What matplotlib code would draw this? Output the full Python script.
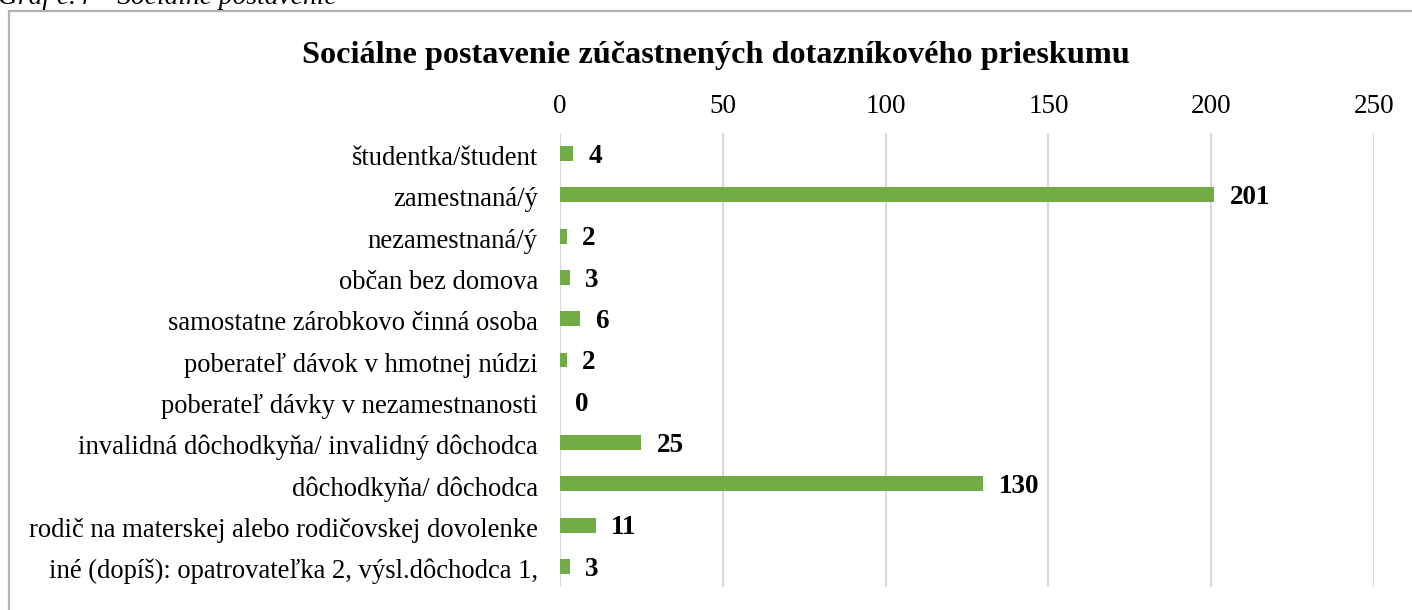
import matplotlib
matplotlib.use("Agg")
import matplotlib.pyplot as plt
import matplotlib.transforms as mtransforms
from matplotlib.patches import Rectangle

categories = [
    "študentka/študent",
    "zamestnaná/ý",
    "nezamestnaná/ý",
    "občan bez domova",
    "samostatne zárobkovo činná osoba",
    "poberateľ dávok v hmotnej núdzi",
    "poberateľ dávky v nezamestnanosti",
    "invalidná dôchodkyňa/ invalidný dôchodca",
    "dôchodkyňa/ dôchodca",
    "rodič na materskej alebo rodičovskej dovolenke",
    "iné (dopíš): opatrovateľka 2, výsl.dôchodca 1,",
]
values = [4, 201, 2, 3, 6, 2, 0, 25, 130, 11, 3]
xticks = [0, 50, 100, 150, 200, 250]
title = "Sociálne postavenie zúčastnených dotazníkového prieskumu"
caption = "Graf č.4 – Sociálne postavenie"

plt.rcParams['font.family'] = ['Liberation Serif', 'DejaVu Serif']

W, H = 1412, 610
fig = plt.figure(figsize=(W / 100, H / 100), dpi=100)

# axes placement in pixels
x0, x1 = 560, 1374
y_top, y_bot = 133, 587
ax = fig.add_axes([x0 / W, 1 - y_bot / H, (x1 - x0) / W, (y_bot - y_top) / H])

ypos = list(range(len(categories)))
ax.barh(ypos, values, height=0.36, color="#70ad47", zorder=3)
ax.set_ylim(len(categories) - 0.5, -0.5)
ax.set_xlim(0, 250)
ax.set_xticks(xticks)
ax.set_yticks(ypos)
ax.set_yticklabels(categories, fontsize=19.2)
ax.xaxis.tick_top()
ax.tick_params(axis='x', length=0, labelsize=19.5, pad=10, colors='#000000')
ax.tick_params(axis='y', length=0, pad=16)
shift = mtransforms.ScaledTranslation(0, -2 / 100, fig.dpi_scale_trans)
for lbl in ax.get_yticklabels():
    lbl.set_transform(lbl.get_transform() + shift)
for s in ax.spines.values():
    s.set_visible(False)
ax.grid(axis='x', color='#d9d9d9', linewidth=1.5, zorder=0)
ax.set_axisbelow(True)

for y, v in zip(ypos, values):
    ax.annotate(str(v), (v, y), xytext=(11, -2), textcoords='offset points',
                va='center', ha='left', fontsize=19.5, fontweight='bold')

fig.text(716 / W, 1 - 55 / H, title, ha='center', va='center',
         fontsize=23.2, fontweight='bold')

fig.text(-2 / W, 1 - 4 / H, caption, ha='left', va='baseline',
         fontsize=19.8, style='italic')

rect = Rectangle((8.5 / W, -0.1), 1.2, 1 - 10.5 / H + 0.1, transform=fig.transFigure,
                 fill=False, edgecolor='#b3b3b3', linewidth=1.6)
fig.patches.append(rect)

fig.savefig("out.png", dpi=100)
